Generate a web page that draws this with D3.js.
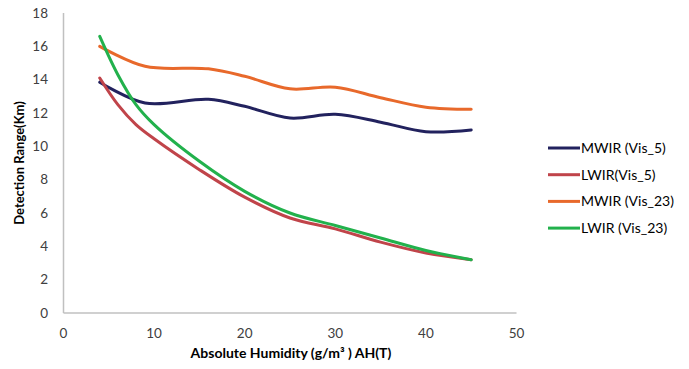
<!DOCTYPE html>
<html>
<head>
<meta charset="utf-8">
<script src="https://cdn.jsdelivr.net/npm/d3@7"></script>
<style>
  body { margin: 0; background: #fff; }
  text { font-family: Lato, "Open Sans", sans-serif; }
</style>
</head>
<body>
<div id="chart"></div>
<script>
// values
var humidity = [4, 9, 16, 20, 25, 30, 35, 40, 45];
var mwirVis5 = [13.85, 12.6, 12.82, 12.4, 11.7, 11.92, 11.45, 10.88, 10.98];
var mwirVis23 = [16.0, 14.8, 14.65, 14.2, 13.45, 13.55, 12.92, 12.35, 12.22];

var humidityL = [4, 6, 8, 10, 15, 20, 25, 30, 35, 40, 45];
var lwirVis5 = [14.1, 12.5, 11.3, 10.45, 8.6, 6.95, 5.7, 5.05, 4.25, 3.6, 3.2];
var lwirVis23 = [16.6, 14.3, 12.5, 11.3, 9.1, 7.3, 6.0, 5.25, 4.5, 3.75, 3.2];

var seriesNames = ["MWIR (Vis_5)", "LWIR(Vis_5)", "MWIR (Vis_23)", "LWIR (Vis_23)"];
var seriesColors = ["#22225e", "#c0444a", "#e8692b", "#22b14c"];
var xTicks = [0, 10, 20, 30, 40, 50];
var yTicks = [0, 2, 4, 6, 8, 10, 12, 14, 16, 18];

var series = [
  {name: seriesNames[0], color: seriesColors[0], xs: humidity, ys: mwirVis5},
  {name: seriesNames[1], color: seriesColors[1], xs: humidityL, ys: lwirVis5},
  {name: seriesNames[2], color: seriesColors[2], xs: humidity, ys: mwirVis23},
  {name: seriesNames[3], color: seriesColors[3], xs: humidityL, ys: lwirVis23}
];

var width = 689, height = 369;
var svg = d3.select("#chart").append("svg").attr("width", width).attr("height", height);

var x = d3.scaleLinear().domain([0, 50]).range([63.5, 516.5]);
var y = d3.scaleLinear().domain([0, 18]).range([313, 13]);

// axis lines
svg.append("line").attr("x1", x(0)).attr("x2", x(0)).attr("y1", y(18)).attr("y2", y(0))
  .attr("stroke", "#c0c0c0").attr("stroke-width", 1.5);
svg.append("line").attr("x1", x(0)).attr("x2", x(50)).attr("y1", y(0)).attr("y2", y(0))
  .attr("stroke", "#c0c0c0").attr("stroke-width", 1.5);

// tick labels
svg.selectAll("text.ytick").data(yTicks).enter().append("text")
  .attr("class", "ytick")
  .attr("x", 48).attr("y", function(d){ return y(d); })
  .attr("dy", "0.35em").attr("text-anchor", "end")
  .attr("font-size", 13.5).attr("fill", "#404040")
  .text(function(d){ return d; });

svg.selectAll("text.xtick").data(xTicks).enter().append("text")
  .attr("class", "xtick")
  .attr("x", function(d){ return x(d); }).attr("y", 338)
  .attr("text-anchor", "middle")
  .attr("font-size", 13.5).attr("fill", "#404040")
  .text(function(d){ return d; });

// axis titles
svg.append("text")
  .attr("transform", "translate(24," + ((y(0) + y(18)) / 2) + ") rotate(-90)")
  .attr("text-anchor", "middle").attr("font-size", 13).attr("font-weight", "bold")
  .attr("fill", "#000")
  .text("Detection Range(Km)");

svg.append("text")
  .attr("x", 291).attr("y", 358)
  .attr("text-anchor", "middle").attr("font-size", 14).attr("font-weight", "bold")
  .attr("fill", "#000")
  .text("Absolute Humidity (g/m³ ) AH(T)");

// smoothed lines
var line = d3.line().curve(d3.curveCatmullRom.alpha(0.5))
  .x(function(d){ return x(d[0]); })
  .y(function(d){ return y(d[1]); });

svg.selectAll("path.series").data(series).enter().append("path")
  .attr("class", "series")
  .attr("fill", "none")
  .attr("stroke", function(d){ return d.color; })
  .attr("stroke-width", 3)
  .attr("stroke-linecap", "round")
  .attr("d", function(d){ return line(d.xs.map(function(v, i){ return [v, d.ys[i]]; })); });

// legend
var legend = svg.selectAll("g.legend").data(series).enter().append("g")
  .attr("class", "legend")
  .attr("transform", function(d, i){ return "translate(548," + (148 + i * 26.7) + ")"; });
legend.append("line").attr("x1", 0).attr("x2", 32).attr("y1", 0).attr("y2", 0)
  .attr("stroke", function(d){ return d.color; }).attr("stroke-width", 3);
legend.append("text").attr("x", 33).attr("y", 0).attr("dy", "0.35em")
  .attr("font-size", 14).attr("fill", "#000")
  .text(function(d){ return d.name; });
</script>
</body>
</html>
